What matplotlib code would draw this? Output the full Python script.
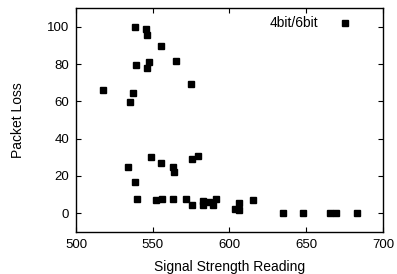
import matplotlib
matplotlib.use('Agg')
import matplotlib.pyplot as plt

plt.rcParams['font.family'] = ['Liberation Sans', 'DejaVu Sans']

# signal strength reading vs packet loss
signal = [538.4, 545.6, 546.3, 555.4, 547.3, 539.1, 546.3, 565.1, 574.9, 517.6,
          537.1, 535.2, 533.9, 548.6, 555.2, 563.0, 563.7, 575.6, 579.3, 538.4,
          539.7, 551.9, 555.8, 563.2, 571.7, 575.6, 582.5, 583.0, 586.5, 589.5,
          591.0, 603.5, 606.0, 606.5, 615.1, 635.0, 647.7, 665.8, 669.1, 682.9]
loss = [100.0, 98.8, 95.7, 89.8, 81.2, 79.6, 78.0, 81.7, 69.3, 66.1,
        64.5, 59.5, 24.6, 30.0, 26.7, 24.6, 21.9, 28.9, 30.5, 16.5,
        7.7, 7.2, 7.7, 7.7, 7.7, 4.1, 4.5, 6.5, 6.0, 4.5,
        7.3, 2.2, 1.5, 5.5, 7.2, 0.3, 0.3, 0.3, 0.3, 0.3]

xticks = [500, 550, 600, 650, 700]
yticks = [0, 20, 40, 60, 80, 100]

fig = plt.figure(figsize=(3.97, 2.74), dpi=100)
ax = fig.add_axes([0.1914, 0.1544, 0.7733, 0.8153])

ax.plot(signal, loss, 's', color='black', markersize=3.8, label='4bit/6bit')

ax.set_xlim(500, 700)
ax.set_ylim(-10, 110)
ax.set_xticks(xticks)
ax.set_yticks(yticks)
ax.tick_params(direction='in', length=3.5, width=0.8, top=True, right=True,
               labelsize=9.5, pad=5)
for s in ax.spines.values():
    s.set_linewidth(1.0)

ax.set_xlabel('Signal Strength Reading', fontsize=10, labelpad=7)
ax.set_ylabel('Packet Loss', fontsize=10, labelpad=16)

ax.legend(loc='upper right', bbox_to_anchor=(0.93, 1.007), frameon=False,
          markerfirst=False, fontsize=10, handlelength=1.0,
          handletextpad=1.4, borderaxespad=0.3)

fig.savefig('out.png', dpi=100)
